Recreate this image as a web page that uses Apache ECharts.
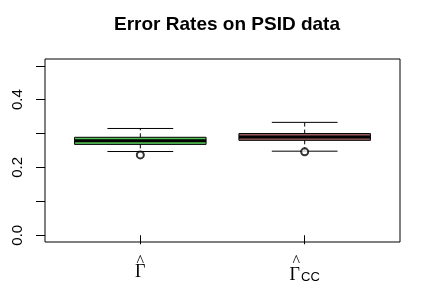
<!DOCTYPE html>
<html>
<head>
<meta charset="utf-8">
<script src="https://cdn.jsdelivr.net/npm/echarts@6/dist/echarts.min.js"></script>
<style>html,body{margin:0;padding:0;background:#fff}#c{width:432px;height:292px}</style>
</head>
<body>
<div id="c"></div>
<script>
// Data
const categories = ['Gamma', 'GammaCC'];
const positions = [1, 2];
const lowerWhisker = [0.247, 0.248];
const q1 = [0.268, 0.280];
const median = [0.279, 0.290];
const q3 = [0.289, 0.300];
const upperWhisker = [0.315, 0.333];
const outliers = [[1, 0.237], [2, 0.246]];
const fillColors = ['#52C052', '#9C5C5C'];
const yTicks = [0, 0.1, 0.2, 0.3, 0.4, 0.5];
const yLabels = [0, 0.2, 0.4];

const boxData = positions.map((p, i) => [p, lowerWhisker[i], q1[i], median[i], q3[i], upperWhisker[i], i]);

const chart = echarts.init(document.getElementById('c'), null, {renderer: 'canvas'});
chart.setOption({
  animation: false,
  backgroundColor: '#fff',
  title: {
    text: 'Error Rates on PSID data',
    left: 222, top: 10, textAlign: 'center',
    textStyle: {fontFamily: 'Liberation Sans, Arial', fontWeight: 'bold', fontSize: 19, color: '#000'}
  },
  grid: {left: 45, right: 32, top: 59, bottom: 50, show: true, borderColor: '#000', borderWidth: 1, backgroundColor: 'transparent'},
  xAxis: {
    type: 'value', min: 0.42, max: 2.58,
    splitLine: {show: false},
    axisLine: {show: false},
    axisTick: {show: true, length: 9, customValues: positions, lineStyle: {color: '#000'}},
    axisLabel: {
      show: true, customValues: positions, margin: 12,
      formatter: function (v) {
        if (Math.abs(v - 1) < 1e-6) return '{hat|^}\n{g|Γ}';
        if (Math.abs(v - 2) < 1e-6) return '{hat|^}{pad|}\n{g|Γ}{sub|CC}';
        return '';
      },
      rich: {
        hat: {fontFamily: 'Liberation Serif', fontSize: 16, lineHeight: 9, color: '#000', verticalAlign: 'top'},
        pad: {width: 17},
        g: {fontFamily: 'Liberation Serif', fontSize: 18, lineHeight: 18, color: '#000', verticalAlign: 'bottom'},
        sub: {fontFamily: 'Liberation Sans', fontSize: 13, lineHeight: 18, color: '#000', verticalAlign: 'bottom', padding: [0,0,0,1]}
      }
    }
  },
  yAxis: {
    type: 'value', min: -0.02, max: 0.52,
    splitLine: {show: false},
    axisLine: {show: false},
    axisTick: {show: true, length: 9, customValues: yTicks, lineStyle: {color: '#000'}},
    axisLabel: {
      show: true, customValues: yLabels, rotate: 90, margin: 20,
      formatter: v => v.toFixed(1),
      fontFamily: 'Liberation Sans, Arial', fontSize: 15, color: '#000'
    }
  },
  series: [
    {
      type: 'custom',
      data: boxData,
      encode: {x: 0, y: [1, 2, 3, 4, 5]},
      renderItem: function (params, api) {
        const x = api.value(0);
        const idx = api.value(6);
        const bw = api.size([0.8, 0])[0];
        const cw = api.size([0.4, 0])[0];
        const pLo = api.coord([x, api.value(1)]);
        const pQ1 = api.coord([x, api.value(2)]);
        const pMed = api.coord([x, api.value(3)]);
        const pQ3 = api.coord([x, api.value(4)]);
        const pHi = api.coord([x, api.value(5)]);
        const cx = pMed[0];
        const black = {stroke: '#000', lineWidth: 1};
        return {
          type: 'group',
          children: [
            {type: 'line', shape: {x1: cx, y1: pQ3[1], x2: cx, y2: pHi[1]}, style: {stroke: '#000', lineWidth: 1, lineDash: [4, 3]}},
            {type: 'line', shape: {x1: cx, y1: pQ1[1], x2: cx, y2: pLo[1]}, style: {stroke: '#000', lineWidth: 1, lineDash: [4, 3]}},
            {type: 'line', shape: {x1: cx - cw / 2, y1: pHi[1], x2: cx + cw / 2, y2: pHi[1]}, style: black},
            {type: 'line', shape: {x1: cx - cw / 2, y1: pLo[1], x2: cx + cw / 2, y2: pLo[1]}, style: black},
            {type: 'rect', shape: {x: cx - bw / 2, y: pQ3[1], width: bw, height: pQ1[1] - pQ3[1]}, style: {fill: fillColors[idx], stroke: '#000', lineWidth: 1}},
            {type: 'line', shape: {x1: cx - bw / 2, y1: pMed[1], x2: cx + bw / 2, y2: pMed[1]}, style: {stroke: '#000', lineWidth: 3}}
          ]
        };
      }
    },
    {
      type: 'scatter',
      data: outliers,
      symbol: 'emptyCircle',
      symbolSize: 7,
      itemStyle: {color: '#000', borderColor: '#000', borderWidth: 0.8}
    }
  ]
});
</script>
</body>
</html>
